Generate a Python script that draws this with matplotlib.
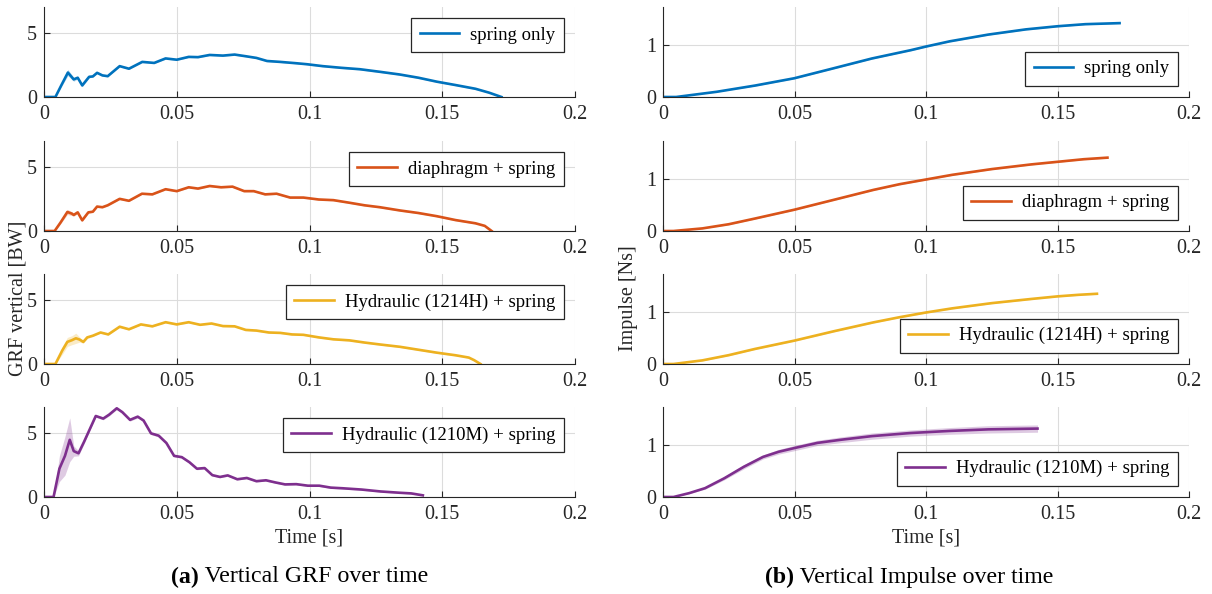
import numpy as np
import matplotlib.pyplot as plt

# ---- data ----
labels = ['spring only', 'diaphragm + spring',
          'Hydraulic (1214H) + spring', 'Hydraulic (1210M) + spring']
colors = ['#0072BD', '#D95319', '#EDB120', '#7E2F8E']

# vertical GRF [BW]
t_grf1 = [0, 0.0043, 0.0065, 0.009, 0.0112, 0.0127, 0.0144, 0.017, 0.0184, 0.020, 0.022, 0.024,
          0.0285, 0.032, 0.037, 0.0415, 0.0458, 0.050, 0.0545, 0.058, 0.0624, 0.0674, 0.0718,
          0.076, 0.080, 0.084, 0.089, 0.0948, 0.099, 0.105, 0.112, 0.119, 0.1265, 0.134, 0.141,
          0.148, 0.155, 0.1625, 0.1676, 0.1723]
grf1 = [0, 0, 0.9, 1.9, 1.37, 1.5, 0.9, 1.57, 1.6, 1.88, 1.68, 1.62,
        2.4, 2.2, 2.73, 2.65, 3.0, 2.9, 3.12, 3.1, 3.27, 3.22, 3.3,
        3.17, 3.04, 2.8, 2.73, 2.63, 2.55, 2.4, 2.27, 2.16, 1.96, 1.75, 1.5,
        1.19, 0.93, 0.64, 0.34, 0.0]
sd1 = [0, 0, 0.1, 0.25, 0.15, 0.1, 0.1, 0.08, 0.05, 0.05, 0.05, 0.05,
       0.05, 0.05, 0.05, 0.05, 0.05, 0.05, 0.05, 0.05, 0.05, 0.05, 0.05,
       0.05, 0.05, 0.05, 0.05, 0.05, 0.05, 0.05, 0.05, 0.05, 0.05, 0.05, 0.05,
       0.05, 0.05, 0.05, 0.03, 0.0]

t_grf2 = [0, 0.004, 0.0062, 0.0088, 0.0105, 0.0112, 0.0127, 0.0144, 0.0167, 0.0184, 0.020, 0.022,
          0.024, 0.0285, 0.032, 0.0369, 0.0408, 0.0458, 0.050, 0.0545, 0.058, 0.0624, 0.0667,
          0.071, 0.0754, 0.079, 0.0833, 0.0876, 0.0927, 0.0977, 0.1035, 0.109, 0.115, 0.1207,
          0.1265, 0.134, 0.141, 0.148, 0.155, 0.1625, 0.166, 0.1686]
grf2 = [0, 0, 0.65, 1.48, 1.35, 1.25, 1.45, 0.83, 1.45, 1.5, 1.9, 1.85,
        2.0, 2.5, 2.35, 2.9, 2.85, 3.25, 3.1, 3.4, 3.3, 3.5, 3.4,
        3.45, 3.1, 3.1, 2.85, 2.9, 2.6, 2.6, 2.45, 2.4, 2.2, 2.0,
        1.85, 1.6, 1.4, 1.15, 0.85, 0.6, 0.4, 0.0]
sd2 = [0, 0, 0.1, 0.2, 0.15, 0.1, 0.1, 0.08, 0.06, 0.05, 0.05, 0.05,
       0.05, 0.05, 0.05, 0.05, 0.05, 0.05, 0.05, 0.05, 0.05, 0.05, 0.05,
       0.05, 0.05, 0.05, 0.05, 0.05, 0.05, 0.05, 0.05, 0.05, 0.05, 0.05,
       0.05, 0.05, 0.05, 0.05, 0.05, 0.05, 0.03, 0.0]

t_grf3 = [0, 0.0043, 0.0069, 0.0088, 0.0105, 0.012, 0.0134, 0.0148, 0.0163, 0.0184, 0.0213, 0.0242,
          0.0285, 0.032, 0.0365, 0.0408, 0.0458, 0.050, 0.0545, 0.0588, 0.0631, 0.0674, 0.0718,
          0.076, 0.080, 0.0847, 0.089, 0.0934, 0.0977, 0.1035, 0.109, 0.115, 0.1207, 0.1265,
          0.134, 0.141, 0.148, 0.155, 0.160, 0.162, 0.1644]
grf3 = [0, 0, 1.06, 1.72, 1.85, 2.0, 1.9, 1.72, 2.07, 2.2, 2.45, 2.3,
        2.9, 2.7, 3.08, 2.93, 3.25, 3.08, 3.25, 3.05, 3.15, 2.95, 2.93,
        2.65, 2.6, 2.45, 2.42, 2.3, 2.27, 2.07, 1.92, 1.84, 1.67, 1.52,
        1.34, 1.11, 0.88, 0.68, 0.5, 0.3, 0.0]
sd3 = [0, 0, 0.3, 0.35, 0.35, 0.4, 0.2, 0.1, 0.08, 0.06, 0.05, 0.05,
       0.05, 0.05, 0.05, 0.05, 0.05, 0.05, 0.05, 0.05, 0.05, 0.05, 0.05,
       0.05, 0.05, 0.05, 0.05, 0.05, 0.05, 0.05, 0.05, 0.05, 0.05, 0.05,
       0.05, 0.05, 0.05, 0.05, 0.05, 0.03, 0.0]

t_grf4 = [0, 0.0036, 0.0058, 0.0079, 0.0097, 0.0112, 0.013, 0.0151, 0.0173, 0.0195, 0.0223, 0.0245,
          0.0274, 0.0295, 0.0324, 0.0353, 0.0375, 0.0403, 0.0432, 0.0461, 0.049, 0.0519, 0.0548,
          0.0576, 0.0605, 0.0634, 0.0663, 0.0692, 0.0728, 0.0764, 0.080, 0.0836, 0.0872, 0.0908,
          0.095, 0.0994, 0.1037, 0.108, 0.1124, 0.1196, 0.1268, 0.134, 0.1383, 0.1427]
grf4 = [0, 0, 2.2, 3.2, 4.45, 3.57, 3.4, 4.3, 5.3, 6.3, 6.1, 6.4,
        6.9, 6.6, 6.0, 6.25, 5.95, 4.95, 4.77, 4.2, 3.2, 3.1, 2.7,
        2.2, 2.25, 1.7, 1.56, 1.68, 1.38, 1.48, 1.23, 1.3, 1.13, 0.98,
        1.0, 0.88, 0.88, 0.73, 0.68, 0.58, 0.43, 0.33, 0.28, 0.13]
sd4 = [0, 0, 1.0, 1.5, 1.7, 0.4, 0.2, 0.15, 0.1, 0.1, 0.1, 0.1,
       0.1, 0.1, 0.1, 0.1, 0.1, 0.1, 0.1, 0.1, 0.08, 0.08, 0.08,
       0.08, 0.08, 0.06, 0.06, 0.06, 0.06, 0.06, 0.06, 0.06, 0.06, 0.06,
       0.06, 0.06, 0.06, 0.06, 0.06, 0.05, 0.05, 0.05, 0.05, 0.03]

# vertical impulse [Ns]
t_imp1 = [0, 0.005, 0.0204, 0.035, 0.0499, 0.0647, 0.0794, 0.0942, 0.100, 0.109, 0.1237, 0.138,
          0.150, 0.1606, 0.1736]
imp1 = [0, 0, 0.1, 0.22, 0.36, 0.55, 0.74, 0.9, 0.97, 1.07, 1.2, 1.3, 1.36, 1.4, 1.42]
sdi1 = [0, 0, 0.005, 0.01, 0.01, 0.01, 0.01, 0.01, 0.01, 0.01, 0.01, 0.01, 0.01, 0.01, 0.01]

t_imp2 = [0, 0.004, 0.015, 0.025, 0.035, 0.050, 0.065, 0.080, 0.090, 0.100, 0.110, 0.125, 0.140,
          0.150, 0.160, 0.169]
imp2 = [0, 0, 0.05, 0.13, 0.24, 0.41, 0.6, 0.79, 0.9, 0.99, 1.08, 1.19, 1.28, 1.33, 1.38, 1.41]
sdi2 = [0, 0, 0.005, 0.01, 0.01, 0.01, 0.01, 0.01, 0.01, 0.01, 0.01, 0.01, 0.01, 0.01, 0.01, 0.01]

t_imp3 = [0, 0.004, 0.015, 0.025, 0.035, 0.050, 0.065, 0.080, 0.090, 0.100, 0.110, 0.125, 0.140,
          0.150, 0.158, 0.165]
imp3 = [0, 0, 0.07, 0.17, 0.29, 0.45, 0.63, 0.8, 0.9, 0.99, 1.07, 1.17, 1.25, 1.3, 1.33, 1.35]
sdi3 = [0, 0, 0.01, 0.01, 0.01, 0.01, 0.01, 0.01, 0.01, 0.01, 0.01, 0.01, 0.01, 0.01, 0.01, 0.01]

t_imp4 = [0, 0.004, 0.010, 0.016, 0.0233, 0.0307, 0.038, 0.044, 0.0499, 0.0587, 0.0676, 0.0794,
          0.0942, 0.109, 0.1237, 0.1424]
imp4 = [0, 0, 0.075, 0.17, 0.36, 0.58, 0.77, 0.87, 0.94, 1.04, 1.1, 1.17, 1.23, 1.27, 1.3, 1.315]
sdi4 = [0, 0, 0.01, 0.02, 0.03, 0.04, 0.04, 0.045, 0.05, 0.05, 0.055, 0.06, 0.06, 0.065, 0.07, 0.07]

grf_t = [t_grf1, t_grf2, t_grf3, t_grf4]
grf_y = [grf1, grf2, grf3, grf4]
grf_sd = [sd1, sd2, sd3, sd4]
imp_t = [t_imp1, t_imp2, t_imp3, t_imp4]
imp_y = [imp1, imp2, imp3, imp4]
imp_sd = [sdi1, sdi2, sdi3, sdi4]

plt.rcParams['font.family'] = ['Liberation Serif', 'DejaVu Serif']
plt.rcParams['font.size'] = 14

fig = plt.figure(figsize=(12.12, 5.94), dpi=100)
W, H = 1212.0, 594.0
row_bottom = [97, 231, 364, 497]   # pixel rows of the x axes
ax_h = 90
TXT = '#262626'


def style_axes(ax, ylim, yticks):
    ax.set_xlim(0, 0.2)
    ax.set_ylim(*ylim)
    ax.set_xticks([0, 0.05, 0.1, 0.15, 0.2])
    ax.set_xticklabels(['0', '0.05', '0.1', '0.15', '0.2'])
    ax.set_yticks(yticks)
    ax.grid(True, color='#dcdcdc', lw=0.8)
    ax.set_axisbelow(True)
    for s in ['top', 'right']:
        ax.spines[s].set_visible(False)
    for s in ['left', 'bottom']:
        ax.spines[s].set_color(TXT)
        ax.spines[s].set_linewidth(0.8)
    ax.tick_params(direction='in', length=4, width=0.8, colors=TXT, labelsize=14.5)
    ax.tick_params(axis='x', pad=6)
    ax.tick_params(axis='y', pad=5)


def add_legend(ax, loc):
    leg = ax.legend(loc=loc, fancybox=False, edgecolor=TXT, framealpha=1,
                    handlelength=2.1, handletextpad=0.6, borderaxespad=0.6,
                    borderpad=0.45, fontsize=13.5)
    leg.get_frame().set_linewidth(0.9)


for i in range(4):
    yb = 1 - row_bottom[i] / H
    # left: GRF
    ax = fig.add_axes([44 / W, yb, 531 / W, ax_h / H])
    t = np.array(grf_t[i]); y = np.array(grf_y[i]); sd = np.array(grf_sd[i])
    ax.fill_between(t, np.clip(y - sd, 0, None), y + sd, color=colors[i], alpha=0.25, lw=0)
    ax.plot(t, y, color=colors[i], lw=1.9, label=labels[i])
    style_axes(ax, (0, 7), [0, 5])
    add_legend(ax, 'upper right')
    if i == 3:
        ax.set_xlabel('Time [s]', fontsize=14.5, labelpad=3, color=TXT)

    # right: impulse
    ax = fig.add_axes([663 / W, yb, 526 / W, ax_h / H])
    t = np.array(imp_t[i]); y = np.array(imp_y[i]); sd = np.array(imp_sd[i])
    ax.fill_between(t, np.clip(y - sd, 0, None), y + sd, color=colors[i], alpha=0.25, lw=0)
    ax.plot(t, y, color=colors[i], lw=1.9, label=labels[i])
    style_axes(ax, (0, 1.73), [0, 1])
    add_legend(ax, 'lower right')
    if i == 3:
        ax.set_xlabel('Time [s]', fontsize=14.5, labelpad=3, color=TXT)

fig.text(18 / W, 1 - 298 / H, 'GRF vertical [BW]', rotation=90, ha='center', va='center',
         fontsize=14.5, color=TXT)
fig.text(628 / W, 1 - 298 / H, 'Impulse [Ns]', rotation=90, ha='center', va='center',
         fontsize=14.5, color=TXT)

# sub-figure captions
fig.text(199 / W, 1 - 577 / H, '(a)', ha='right', va='center', fontsize=17.2, fontweight='bold')
fig.text(199 / W, 1 - 577 / H, ' Vertical GRF over time', ha='left', va='center', fontsize=17.2)
fig.text(794 / W, 1 - 577 / H, '(b)', ha='right', va='center', fontsize=17.2, fontweight='bold')
fig.text(794 / W, 1 - 577 / H, ' Vertical Impulse over time', ha='left', va='center', fontsize=17.2)

fig.savefig('out.png', dpi=100)
